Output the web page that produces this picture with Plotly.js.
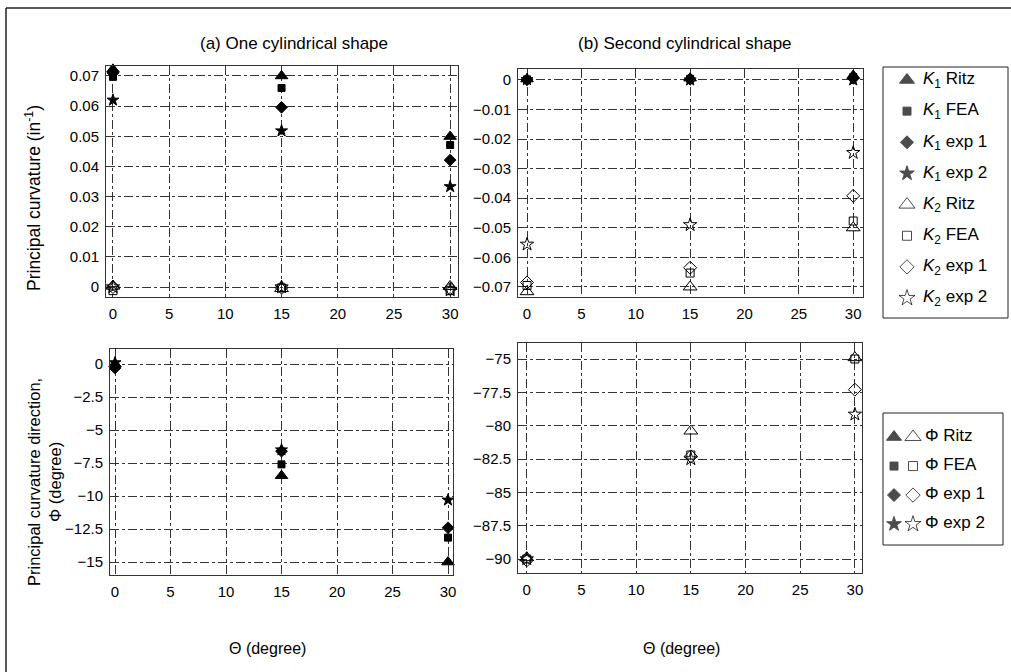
<!DOCTYPE html>
<html>
<head>
<meta charset="utf-8">
<script src="https://cdn.plot.ly/plotly-3.0.1.min.js"></script>
<style>html,body{margin:0;padding:0;background:#fff;}#chart{width:1011px;height:672px;}</style>
</head>
<body>
<div id="chart"></div>
<script>
// ---------- data ----------
var theta = [0, 15, 30];
var xTicks = [0, 5, 10, 15, 20, 25, 30];

// (a) One cylindrical shape: principal curvature (in^-1)
var aK1Ritz = [0.0722, 0.0700, 0.0499];
var aK1FEA  = [0.0697, 0.0660, 0.0471];
var aK1Exp1 = [0.0710, 0.0596, 0.0421];
var aK1Exp2 = [0.0620, 0.0518, 0.0333];
var aK2Ritz = [0.0003, -0.0005, 0.0002];
var aK2FEA  = [-0.0012, -0.0003, -0.0012];
var aK2Exp1 = [0.0000, -0.0002, -0.0006];
var aK2Exp2 = [0.0000, 0.0000, -0.0010];

// (b) Second cylindrical shape: principal curvature (in^-1)
var bK1Ritz = [0.0003, 0.0006, 0.0015];
var bK1FEA  = [0.0002, 0.0004, 0.0010];
var bK1Exp1 = [0.0000, 0.0002, 0.0005];
var bK1Exp2 = [0.0001, 0.0000, 0.0000];
var bK2Ritz = [-0.0716, -0.0700, -0.0500];
var bK2FEA  = [-0.0695, -0.0653, -0.0477];
var bK2Exp1 = [-0.0685, -0.0635, -0.0392];
var bK2Exp2 = [-0.0556, -0.0490, -0.0246];

// principal curvature direction Phi (degree)
var aPhiRitz = [0.0, -8.46, -15.0];
var aPhiFEA  = [-0.1, -7.6, -13.15];
var aPhiExp1 = [-0.3, -6.6, -12.4];
var aPhiExp2 = [0.1, -6.5, -10.3];
var bPhiRitz = [-89.9, -80.4, -74.9];
var bPhiFEA  = [-90.0, -82.2, -75.0];
var bPhiExp1 = [-90.1, -82.3, -77.3];
var bPhiExp2 = [-90.0, -82.5, -79.15];

// tick values
var aKTicks = [0, 0.01, 0.02, 0.03, 0.04, 0.05, 0.06, 0.07];
var bKTicks = [0, -0.01, -0.02, -0.03, -0.04, -0.05, -0.06, -0.07];
var aPhiTicks = [0, -2.5, -5, -7.5, -10, -12.5, -15];
var bPhiTicks = [-75, -77.5, -80, -82.5, -85, -87.5, -90];

// legend content
var symFilled = ['triangle-up', 'square', 'diamond', 'star'];
var symOpen = ['triangle-up-open', 'square-open', 'diamond-open', 'star-open'];
var legKLabels = ['<i>K</i><sub>1</sub> Ritz', '<i>K</i><sub>1</sub> FEA', '<i>K</i><sub>1</sub> exp 1', '<i>K</i><sub>1</sub> exp 2',
                  '<i>K</i><sub>2</sub> Ritz', '<i>K</i><sub>2</sub> FEA', '<i>K</i><sub>2</sub> exp 1', '<i>K</i><sub>2</sub> exp 2'];
var legPhiLabels = ['Φ Ritz', 'Φ FEA', 'Φ exp 1', 'Φ exp 2'];

// ---------- styles ----------
var FONT = 'Liberation Sans, Arial, sans-serif';
var sizes = [11, 7, 9, 9];
var openSizes = [12, 8, 10, 10];
var legFilledSizes = [13, 8, 10, 11];
var legOpenSizes = [14, 9, 11, 12];

function mk(x, y, sym, size, xa, ya) {
  return {x: x, y: y, xaxis: xa, yaxis: ya, type: 'scatter', mode: 'markers', showlegend: false,
    hoverinfo: 'skip', cliponaxis: false,
    marker: {symbol: sym, size: size, color: '#000', line: {color: '#000', width: 1}}};
}

var traces = [];
var aK1 = [aK1Ritz, aK1FEA, aK1Exp1, aK1Exp2], aK2 = [aK2Ritz, aK2FEA, aK2Exp1, aK2Exp2];
var bK1 = [bK1Ritz, bK1FEA, bK1Exp1, bK1Exp2], bK2 = [bK2Ritz, bK2FEA, bK2Exp1, bK2Exp2];
var aPhi = [aPhiRitz, aPhiFEA, aPhiExp1, aPhiExp2], bPhi = [bPhiRitz, bPhiFEA, bPhiExp1, bPhiExp2];
for (var i = 0; i < 4; i++) {
  traces.push(mk(theta, aK2[i], symOpen[i], openSizes[i], 'x', 'y'));
  traces.push(mk(theta, aK1[i], symFilled[i], sizes[i], 'x', 'y'));
  traces.push(mk(theta, bK2[i], symOpen[i], openSizes[i], 'x2', 'y2'));
  traces.push(mk(theta, bK1[i], symFilled[i], sizes[i], 'x2', 'y2'));
  traces.push(mk(theta, aPhi[i], symFilled[i], sizes[i], 'x3', 'y3'));
  traces.push(mk(theta, bPhi[i], symOpen[i], openSizes[i], 'x4', 'y4'));
}

// legend 1 (K) in its own hidden axes
var leg1Idx = [1, 2, 3, 4, 5, 6, 7, 8];
var leg1Sym = symFilled.concat(symOpen);
var leg1Size = legFilledSizes.concat(legOpenSizes);
traces.push({x: leg1Idx.map(function(){return 24;}), y: leg1Idx, xaxis: 'x5', yaxis: 'y5', type: 'scatter', mode: 'markers',
  showlegend: false, hoverinfo: 'skip', marker: {symbol: leg1Sym, size: leg1Size, color: '#000', line: {color: '#000', width: 1}}});
traces.push({x: leg1Idx.map(function(){return 40;}), y: leg1Idx, xaxis: 'x5', yaxis: 'y5', type: 'scatter', mode: 'text',
  text: legKLabels, textposition: 'middle right', showlegend: false, hoverinfo: 'skip',
  textfont: {family: FONT, size: 17, color: '#000'}});

// legend 2 (Phi)
var leg2Idx = [1, 2, 3, 4];
traces.push({x: leg2Idx.map(function(){return 11;}), y: leg2Idx, xaxis: 'x6', yaxis: 'y6', type: 'scatter', mode: 'markers',
  showlegend: false, hoverinfo: 'skip', marker: {symbol: symFilled, size: legFilledSizes, color: '#000', line: {color: '#000', width: 1}}});
traces.push({x: leg2Idx.map(function(){return 30;}), y: leg2Idx, xaxis: 'x6', yaxis: 'y6', type: 'scatter', mode: 'markers',
  showlegend: false, hoverinfo: 'skip', marker: {symbol: symOpen, size: legOpenSizes, color: '#000', line: {color: '#000', width: 1}}});
traces.push({x: leg2Idx.map(function(){return 42;}), y: leg2Idx, xaxis: 'x6', yaxis: 'y6', type: 'scatter', mode: 'text',
  text: legPhiLabels, textposition: 'middle right', showlegend: false, hoverinfo: 'skip',
  textfont: {family: FONT, size: 17, color: '#000'}});

// ---------- layout ----------
var W = 1011, H = 672;
function px(v) { return v / W; }
function py(v) { return 1 - v / H; }

function xax(domL, domR, r, anchor) {
  return {domain: [px(domL), px(domR)], range: r, anchor: anchor,
    tickvals: xTicks, ticks: '', showline: true, mirror: true, linecolor: '#333', linewidth: 1,
    showgrid: true, gridcolor: '#333', griddash: 'dashdot', gridwidth: 1, zeroline: false,
    tickfont: {family: FONT, size: 15, color: '#000'}, ticklabelstandoff: 3, fixedrange: true};
}
function yax(domT, domB, r, tv, anchor) {
  return {domain: [py(domB), py(domT)], range: r, anchor: anchor,
    tickvals: tv, ticks: '', showline: true, mirror: true, linecolor: '#333', linewidth: 1,
    showgrid: true, gridcolor: '#333', griddash: 'dashdot', gridwidth: 1, zeroline: false,
    tickfont: {family: FONT, size: 15, color: '#000'}, ticklabelstandoff: 3, fixedrange: true};
}

var layout = {
  width: W, height: H, margin: {l: 0, r: 0, t: 0, b: 0},
  paper_bgcolor: '#fff', plot_bgcolor: 'rgba(0,0,0,0)', showlegend: false,
  font: {family: FONT, color: '#000'},
  xaxis: xax(106, 458, [-0.62, 30.7], 'y'),
  yaxis: yax(66, 297, [-0.0033, 0.0733], aKTicks, 'x'),
  xaxis2: xax(518, 863, [-0.83, 30.9], 'y2'),
  yaxis2: yax(69, 297, [-0.0734, 0.0037], bKTicks, 'x2'),
  xaxis3: xax(110, 453, [-0.45, 30.45], 'y3'),
  yaxis3: yax(349, 575, [-15.98, 1.14], aPhiTicks, 'x3'),
  xaxis4: xax(518, 862, [-0.8, 30.65], 'y4'),
  yaxis4: yax(343, 573, [-91.05, -73.8], bPhiTicks, 'x4'),
  xaxis5: {domain: [px(883), px(1008)], range: [0, 125], visible: false, anchor: 'y5', fixedrange: true},
  yaxis5: {domain: [py(318), py(67)], range: [8.64, 0.583], visible: false, anchor: 'x5', fixedrange: true},
  xaxis6: {domain: [px(883), px(1003)], range: [0, 120], visible: false, anchor: 'y6', fixedrange: true},
  yaxis6: {domain: [py(545), py(413)], range: [4.72, 0.172], visible: false, anchor: 'x6', fixedrange: true},
  annotations: [
    {text: '(a) One cylindrical shape', x: px(294), y: py(44), xref: 'paper', yref: 'paper', showarrow: false,
      xanchor: 'center', yanchor: 'middle', font: {family: FONT, size: 17, color: '#000'}},
    {text: '(b) Second cylindrical shape', x: px(685), y: py(44), xref: 'paper', yref: 'paper', showarrow: false,
      xanchor: 'center', yanchor: 'middle', font: {family: FONT, size: 17, color: '#000'}},
    {text: 'Principal curvature (in<sup>-1</sup>)', x: px(33), y: py(198), xref: 'paper', yref: 'paper', showarrow: false,
      textangle: -90, xanchor: 'center', yanchor: 'middle', font: {family: FONT, size: 17.5, color: '#000'}},
    {text: 'Principal curvature direction,<br>Φ (degree)', x: px(44), y: py(482), xref: 'paper', yref: 'paper', showarrow: false,
      textangle: -90, xanchor: 'center', yanchor: 'middle', font: {family: FONT, size: 16.5, color: '#000'}},
    {text: 'Θ (degree)', x: px(267), y: py(648), xref: 'paper', yref: 'paper', showarrow: false,
      xanchor: 'center', yanchor: 'middle', font: {family: FONT, size: 16, color: '#000'}},
    {text: 'Θ (degree)', x: px(681), y: py(648), xref: 'paper', yref: 'paper', showarrow: false,
      xanchor: 'center', yanchor: 'middle', font: {family: FONT, size: 16, color: '#000'}}
  ],
  shapes: [
    {type: 'line', xref: 'paper', yref: 'paper', x0: px(6), x1: 1, y0: py(8), y1: py(8), line: {color: '#222', width: 1.5}},
    {type: 'line', xref: 'paper', yref: 'paper', x0: px(6), x1: px(6), y0: py(8), y1: 0, line: {color: '#222', width: 1.5}},
    {type: 'rect', xref: 'paper', yref: 'paper', x0: px(883), x1: px(1008), y0: py(318), y1: py(67), line: {color: '#222', width: 1}},
    {type: 'rect', xref: 'paper', yref: 'paper', x0: px(883), x1: px(1003), y0: py(545), y1: py(413), line: {color: '#222', width: 1}}
  ]
};

Plotly.newPlot('chart', traces, layout, {staticPlot: true, displayModeBar: false});
</script>
</body>
</html>
